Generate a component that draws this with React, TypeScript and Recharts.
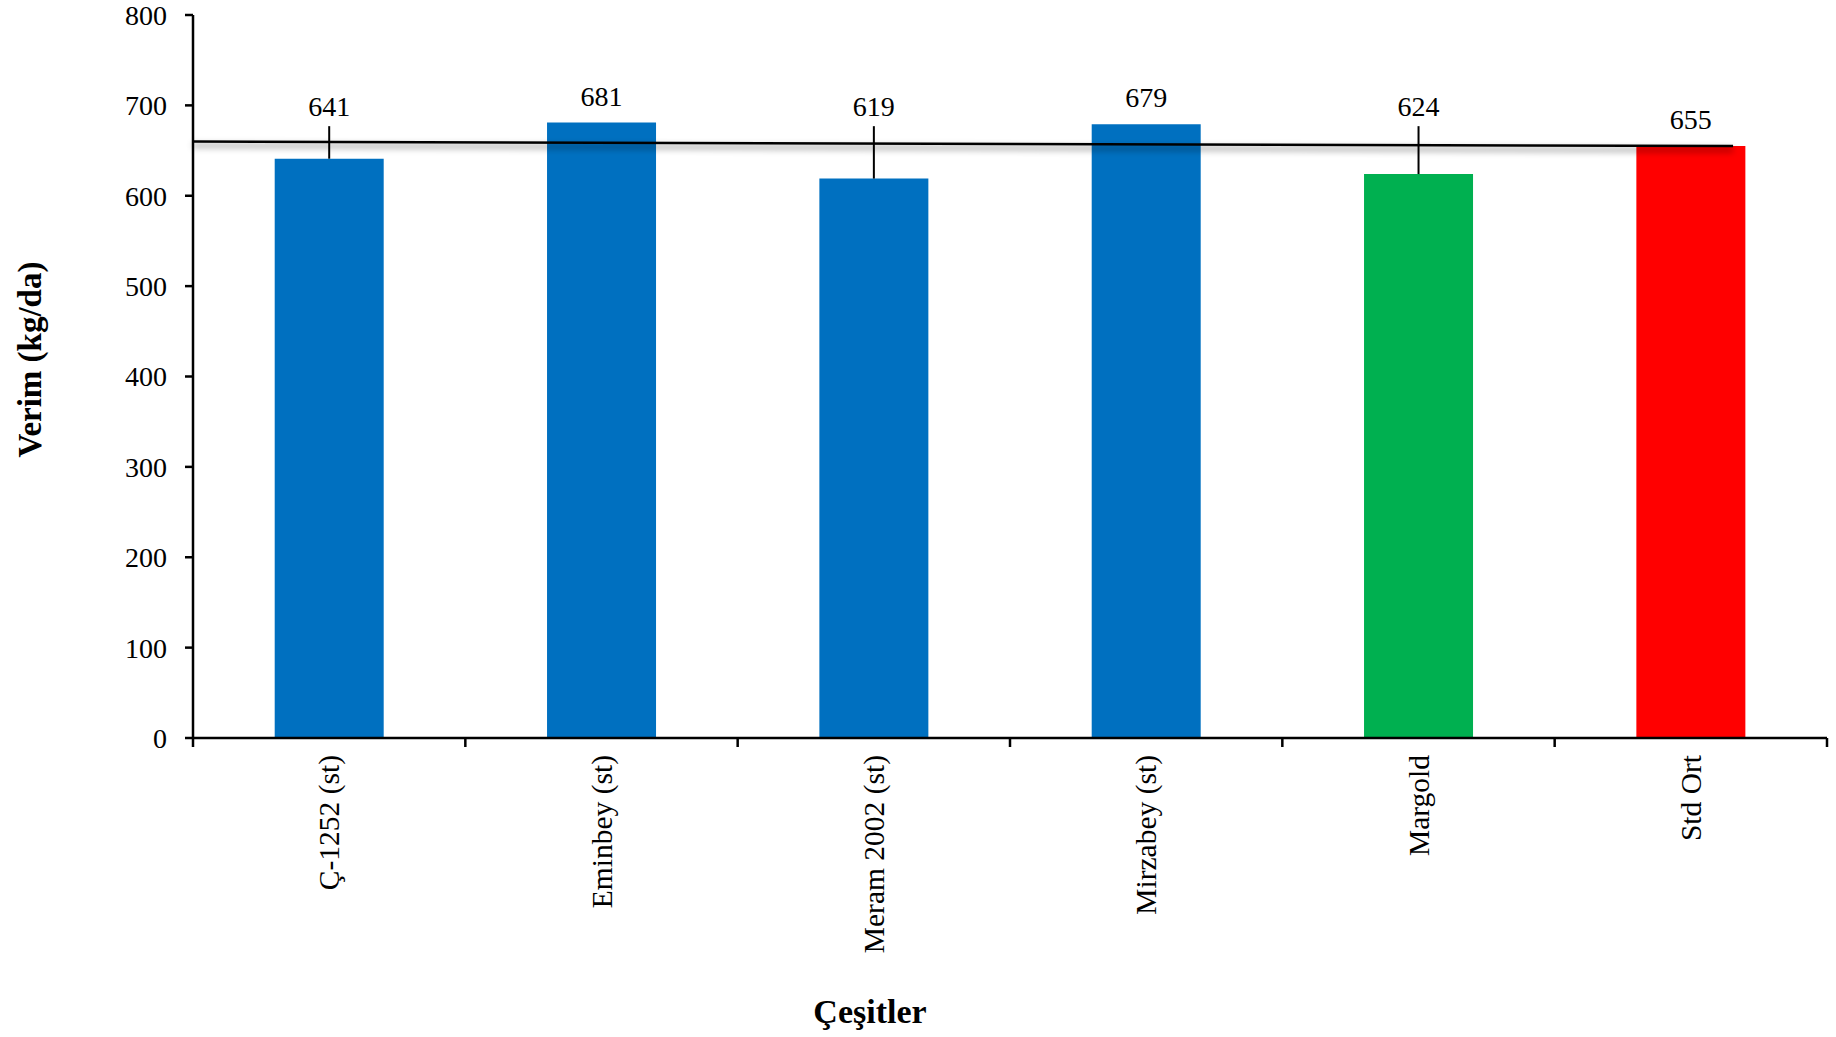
import React from "react";
import {
  Bar,
  Cell,
  ComposedChart,
  ErrorBar,
  LabelList,
  ReferenceLine,
  XAxis,
  YAxis,
} from "recharts";

const categories = [
  "Ç-1252 (st)",
  "Eminbey (st)",
  "Meram 2002 (st)",
  "Mirzabey (st)",
  "Margold",
  "Std Ort",
];
const yields = [641, 681, 619, 679, 624, 655];
// only the upper arm is drawn in the original
const errorPlus = [36, 0, 58, 0, 53, 0];
const barColors = ["#0070C0", "#0070C0", "#0070C0", "#0070C0", "#00B050", "#FF0000"];
const yTicks = [0, 100, 200, 300, 400, 500, 600, 700, 800];
// trend line, in category units (0 = left edge of first band)
const trendX = [0, 5.655];
const trendY = [660, 655];

const data = categories.map((name, i) => ({
  name,
  value: yields[i],
  err: [0, errorPlus[i]],
  pos: i + 0.5,
}));

const FONT = "'Liberation Serif', 'Times New Roman', serif";

const CategoryTick = (props: any) => {
  const { x, y, payload, index, visibleTicksCount } = props;
  const half = payload.offset || 0;
  const last = index === (visibleTicksCount ?? categories.length) - 1;
  return (
    <g transform={`translate(${x},${y})`}>
      <line x1={-half} y1={0} x2={-half} y2={9} stroke="#000" strokeWidth={2.5} />
      {last && (
        <line x1={half} y1={0} x2={half} y2={9} stroke="#000" strokeWidth={2.5} />
      )}
      <text
        transform="rotate(-90)"
        x={-17}
        y={0}
        dy="0.35em"
        textAnchor="end"
        fontFamily={FONT}
        fontSize={29.5}
        fill="#000"
      >
        {payload.value}
      </text>
    </g>
  );
};

const ValueLabel = (props: any) => {
  const { x, y, width, height, value, index } = props;
  const plus = errorPlus[index];
  const pxPerUnit = height / value;
  const baseY = plus ? y - plus * pxPerUnit - 10.5 : y - 17;
  return (
    <text
      x={x + width / 2}
      y={baseY}
      textAnchor="middle"
      fontFamily={FONT}
      fontSize={28}
      fill="#000"
    >
      {value}
    </text>
  );
};

const TrendShape = (props: any) => {
  const { x1, y1, x2, y2 } = props;
  return (
    <g>
      <line
        x1={x1}
        y1={y1 + 4}
        x2={x2}
        y2={y2 + 4}
        stroke="#000"
        strokeOpacity={0.35}
        strokeWidth={4}
        filter="url(#trendBlur)"
      />
      <line x1={x1} y1={y1} x2={x2} y2={y2} stroke="#000" strokeWidth={2.5} />
    </g>
  );
};

export default function App() {
  return (
    <div style={{ position: "absolute", left: 0, top: 0, background: "#fff" }}>
      <ComposedChart
        width={1836}
        height={1037}
        data={data}
        margin={{ top: 15, right: 9, left: 0, bottom: 0 }}
        barCategoryGap="30%"
      >
        <defs>
          <filter
            id="trendBlur"
            filterUnits="userSpaceOnUse"
            x="0"
            y="0"
            width="1836"
            height="1037"
          >
            <feGaussianBlur stdDeviation="3" />
          </filter>
        </defs>
        <XAxis
          xAxisId="n"
          type="number"
          dataKey="pos"
          domain={[0, 6]}
          allowDataOverflow
          hide
        />
        <XAxis
          dataKey="name"
          height={299}
          axisLine={{ stroke: "#000", strokeWidth: 2.5 }}
          tickLine={false}
          tickSize={0}
          tickMargin={0}
          interval={0}
          tick={<CategoryTick />}
          label={{
            content: (p: any) => {
              const vb = p.viewBox;
              return (
                <text
                  x={vb.x + vb.width / 2 - 140}
                  y={vb.y + 285}
                  textAnchor="middle"
                  fontFamily={FONT}
                  fontSize={34}
                  fontWeight="bold"
                  fill="#000"
                >
                  Çeşitler
                </text>
              );
            },
          }}
        />
        <YAxis
          width={193}
          domain={[0, 800]}
          ticks={yTicks}
          interval={0}
          axisLine={{ stroke: "#000", strokeWidth: 2.5 }}
          tickLine={{ stroke: "#000", strokeWidth: 2.5 }}
          tickSize={8}
          tickMargin={18}
          tick={{ fontFamily: FONT, fontSize: 28, fill: "#000" }}
          label={{
            content: (p: any) => {
              const vb = p.viewBox;
              const cx = vb.x + 30;
              const cy = vb.y + vb.height / 2 - 17;
              return (
                <text
                  x={cx}
                  y={cy}
                  transform={`rotate(-90, ${cx}, ${cy})`}
                  textAnchor="middle"
                  dominantBaseline="central"
                  fontFamily={FONT}
                  fontSize={33}
                  fontWeight="bold"
                  fill="#000"
                >
                  Verim (kg/da)
                </text>
              );
            },
          }}
        />
        <Bar dataKey="value" isAnimationActive={false}>
          {data.map((d, i) => (
            <Cell key={d.name} fill={barColors[i]} />
          ))}
          <ErrorBar
            dataKey="err"
            direction="y"
            width={0}
            stroke="#000"
            strokeWidth={2}
            isAnimationActive={false}
          />
          <LabelList dataKey="value" content={<ValueLabel />} />
        </Bar>
        <ReferenceLine
          xAxisId="n"
          segment={[
            { x: trendX[0], y: trendY[0] },
            { x: trendX[1], y: trendY[1] },
          ]}
          ifOverflow="visible"
          shape={<TrendShape />}
        />
      </ComposedChart>
    </div>
  );
}
